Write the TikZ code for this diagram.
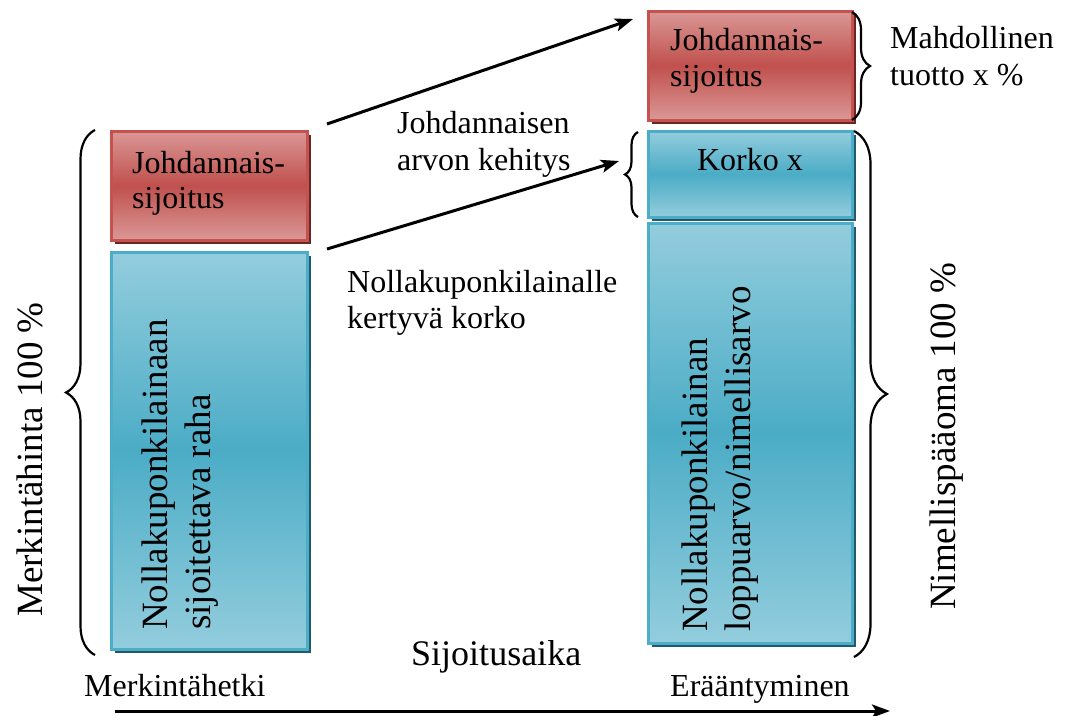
\documentclass[tikz,border=0pt]{standalone}
\usepackage{fontspec}
\setmainfont{Liberation Serif}
\usetikzlibrary{arrows.meta,decorations.pathreplacing,shadows}
\definecolor{redlight}{HTML}{DA9896}
\definecolor{redmid}{HTML}{C0504D}
\definecolor{redborder}{HTML}{C4524F}
\definecolor{redshadow}{HTML}{6A2624}
\definecolor{bluelight}{HTML}{93CDDD}
\definecolor{bluemid}{HTML}{4BACC6}
\definecolor{blueborder}{HTML}{4BADC7}
\definecolor{blueshadow}{HTML}{215A69}
\tikzset{
  redbox/.style={rectangle, draw=redborder, line width=3pt,
    top color=redlight, bottom color=redlight, middle color=redmid,
    general shadow={fill=redshadow, shadow xshift=4pt, shadow yshift=-4pt}},
  bluebox/.style={rectangle, draw=blueborder, line width=3pt,
    top color=bluelight, bottom color=bluelight, middle color=bluemid,
    general shadow={fill=blueshadow, shadow xshift=4pt, shadow yshift=-4pt}},
  lbl/.style={inner sep=0pt, anchor=base west, font=\fontsize{32}{37}\selectfont},
  vlbl/.style={inner sep=0pt, anchor=base west, rotate=90, font=\fontsize{37}{43}\selectfont},
  arr/.style={line width=3pt, -{Stealth[length=18pt,width=13pt,inset=4pt]}},
  bracestyle/.style={line width=2.2pt, decorate},
}
\begin{document}
\begin{tikzpicture}[x=1pt,y=-1pt]
\useasboundingbox (0,0) rectangle (1067,715);
% boxes
\node[redbox, minimum width=196pt, minimum height=109pt] (lred) at (209,185.5) {};
\node[bluebox, minimum width=196pt, minimum height=397pt] (lblue) at (209,450.5) {};
\node[redbox, minimum width=204pt, minimum height=109pt] (rred) at (750,65.5) {};
\node[bluebox, minimum width=204pt, minimum height=420pt] (rblue) at (750,433) {};
\node[bluebox, minimum width=204pt, minimum height=86pt] (korko) at (750,174) {};
% box texts
\node[lbl] (lred1) at (132,173) {Johdannais-};
\node[lbl] (lred2) at (132,208) {sijoitus};
\node[lbl] (rred1) at (670,50) {Johdannais-};
\node[lbl] (rred2) at (670,86) {sijoitus};
\node[lbl, anchor=base] (korkot) at (750,170) {Korko x};
\node[vlbl] (lb1) at (167,630) {Nollakuponkilainaan};
\node[vlbl] (lb2) at (210,630) {sijoitettava raha};
\node[vlbl] (rb1) at (707,632) {Nollakuponkilainan};
\node[vlbl] (rb2) at (750,632) {loppuarvo/nimellisarvo};
% free labels
\node[lbl] (jk1) at (397,133) {Johdannaisen};
\node[lbl] (jk2) at (397,170) {arvon kehitys};
\node[lbl] (nk1) at (347,292) {Nollakuponkilainalle};
\node[lbl] (nk2) at (347,328) {kertyvä korko};
\node[lbl] (mt1) at (890,48) {Mahdollinen};
\node[lbl] (mt2) at (890,85) {tuotto x \%};
\node[lbl, font=\fontsize{36}{42}\selectfont] (sa) at (411,665) {Sijoitusaika};
\node[lbl] (mh) at (84,696) {Merkintähetki};
\node[lbl] (er) at (670,696) {Erääntyminen};
\node[vlbl] (mhin) at (42,617) {Merkintähinta 100 \%};
\node[vlbl] (nim) at (955,610) {Nimellispääoma 100 \%};
% braces
\draw[bracestyle, decoration={brace, amplitude=29pt}] (95,655) -- (95,130);
\draw[bracestyle, decoration={brace, amplitude=33pt}] (854,131) -- (854,657);
\draw[bracestyle, decoration={brace, amplitude=18pt}] (852,12) -- (852,120);
\draw[bracestyle, decoration={brace, amplitude=13pt}] (638,217) -- (638,132);
% arrows
\coordinate (a1s) at (327,124);
\coordinate (a1e) at (633,19);
\coordinate (a2s) at (327,249);
\coordinate (a2e) at (619,161);
\coordinate (t0) at (115,711);
\coordinate (t1) at (890,711);
\draw[arr] (a1s) -- (a1e);
\draw[arr] (a2s) -- (a2e);
\draw[arr] (t0) -- (t1);
\end{tikzpicture}
\end{document}
